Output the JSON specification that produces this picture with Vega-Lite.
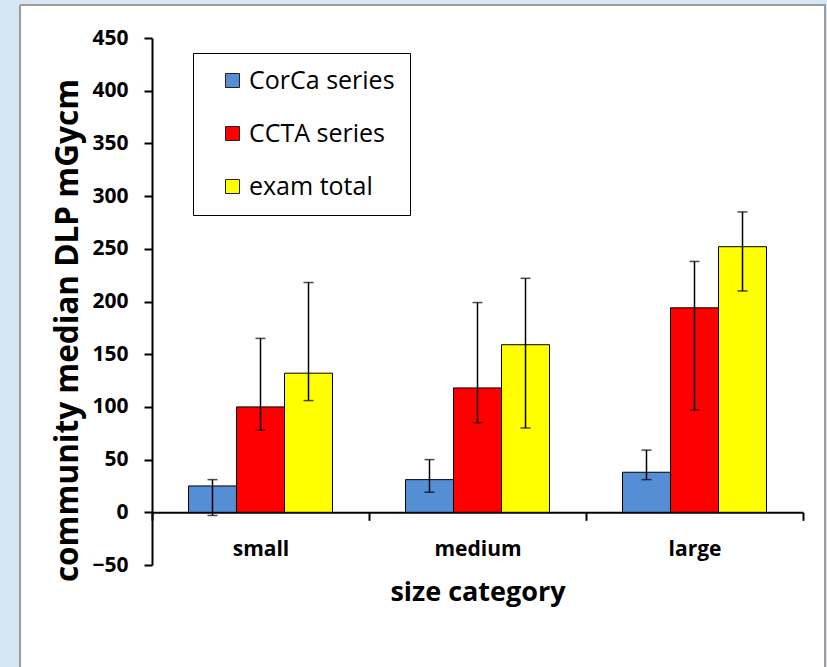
{
  "$schema": "https://vega.github.io/schema/vega-lite/v6.json",
  "width": 805,
  "height": 662,
  "autosize": "none",
  "padding": {"left": 20, "top": 5, "right": 2, "bottom": 0},
  "background": "#D6E6F3",
  "config": {
    "view": {"fill": "white", "stroke": "#9C9C9C", "strokeWidth": 2, "strokeDash": [1467, 805, 662, 0]},
    "font": "Open Sans"
  },
  "data": {
    "values": [
      {"size": "small", "series": "CorCa series", "value": 25, "lo": -3, "hi": 31},
      {"size": "small", "series": "CCTA series", "value": 100, "lo": 78, "hi": 165},
      {"size": "small", "series": "exam total", "value": 132, "lo": 106, "hi": 218},
      {"size": "medium", "series": "CorCa series", "value": 31, "lo": 19, "hi": 50},
      {"size": "medium", "series": "CCTA series", "value": 118, "lo": 85, "hi": 199},
      {"size": "medium", "series": "exam total", "value": 159, "lo": 80, "hi": 222},
      {"size": "large", "series": "CorCa series", "value": 38, "lo": 31, "hi": 59},
      {"size": "large", "series": "CCTA series", "value": 194, "lo": 97, "hi": 238},
      {"size": "large", "series": "exam total", "value": 252, "lo": 210, "hi": 285}
    ]
  },
  "encoding": {
    "x": {
      "field": "size",
      "type": "nominal",
      "sort": ["small", "medium", "large"],
      "scale": {"paddingInner": 0, "paddingOuter": 0, "range": [132, 783]},
      "axis": {
        "title": "size category",
        "offset": -154.7,
        "tickBand": "extent",
        "labelAngle": 0,
        "domainColor": "black",
        "domainWidth": 2,
        "tickColor": "black",
        "tickWidth": 2,
        "tickSize": 8,
        "labelFont": "Open Sans",
        "labelFontWeight": "bold",
        "labelFontSize": 21,
        "labelColor": "black",
        "labelPadding": 18,
        "titleFont": "Open Sans",
        "titleFontWeight": "bold",
        "titleFontSize": 27,
        "titleColor": "black",
        "titleBaseline": "alphabetic",
        "titleY": 88
      }
    },
    "xOffset": {
      "field": "series",
      "type": "nominal",
      "sort": ["CorCa series", "CCTA series", "exam total"],
      "scale": {"paddingInner": 0, "paddingOuter": 0.76}
    }
  },
  "layer": [
    {
      "mark": {"type": "bar", "stroke": "black", "strokeWidth": 1},
      "encoding": {
        "y": {
          "field": "value",
          "type": "quantitative",
          "scale": {"domain": [-50, 450], "nice": false, "range": [560, 33]},
          "axis": {
            "title": "community median DLP mGycm",
            "offset": -132,
            "values": [-50, 0, 50, 100, 150, 200, 250, 300, 350, 400, 450],
            "grid": false,
            "domainColor": "black",
            "domainWidth": 2,
            "tickColor": "black",
            "tickWidth": 2,
            "tickSize": 8,
            "labelFont": "Open Sans",
            "labelFontWeight": "bold",
            "labelFontSize": 21,
            "labelColor": "black",
            "labelPadding": 16,
            "titleFont": "Open Sans",
            "titleFontWeight": "bold",
            "titleFontSize": 31.5,
            "titleColor": "black",
            "titleBaseline": "middle",
            "titleX": -84,
            "titleY": 325
          }
        },
        "color": {
          "field": "series",
          "type": "nominal",
          "scale": {
            "domain": ["CorCa series", "CCTA series", "exam total"],
            "range": ["#558ED5", "#FF0000", "#FFFF00"]
          },
          "legend": {
            "title": null,
            "orient": "none",
            "legendX": 173,
            "legendY": 48,
            "fillColor": "white",
            "strokeColor": "black",
            "padding": 15,
            "rowPadding": 27,
            "symbolType": "square",
            "symbolSize": 196,
            "symbolStrokeColor": "#222222",
            "symbolStrokeWidth": 1,
            "symbolOpacity": 1,
            "symbolOffset": 12,
            "labelOffset": 4,
            "labelFont": "Open Sans",
            "labelFontSize": 25,
            "labelColor": "black",
            "labelLimit": 400
          }
        }
      }
    },
    {
      "mark": {"type": "rule", "color": "black", "strokeWidth": 1.5},
      "encoding": {
        "y": {"field": "lo", "type": "quantitative"},
        "y2": {"field": "hi"}
      }
    },
    {
      "mark": {"type": "tick", "color": "black", "thickness": 1.5, "size": 10},
      "encoding": {
        "y": {"field": "hi", "type": "quantitative"}
      }
    },
    {
      "mark": {"type": "tick", "color": "black", "thickness": 1.5, "size": 10},
      "encoding": {
        "y": {"field": "lo", "type": "quantitative"}
      }
    }
  ]
}
